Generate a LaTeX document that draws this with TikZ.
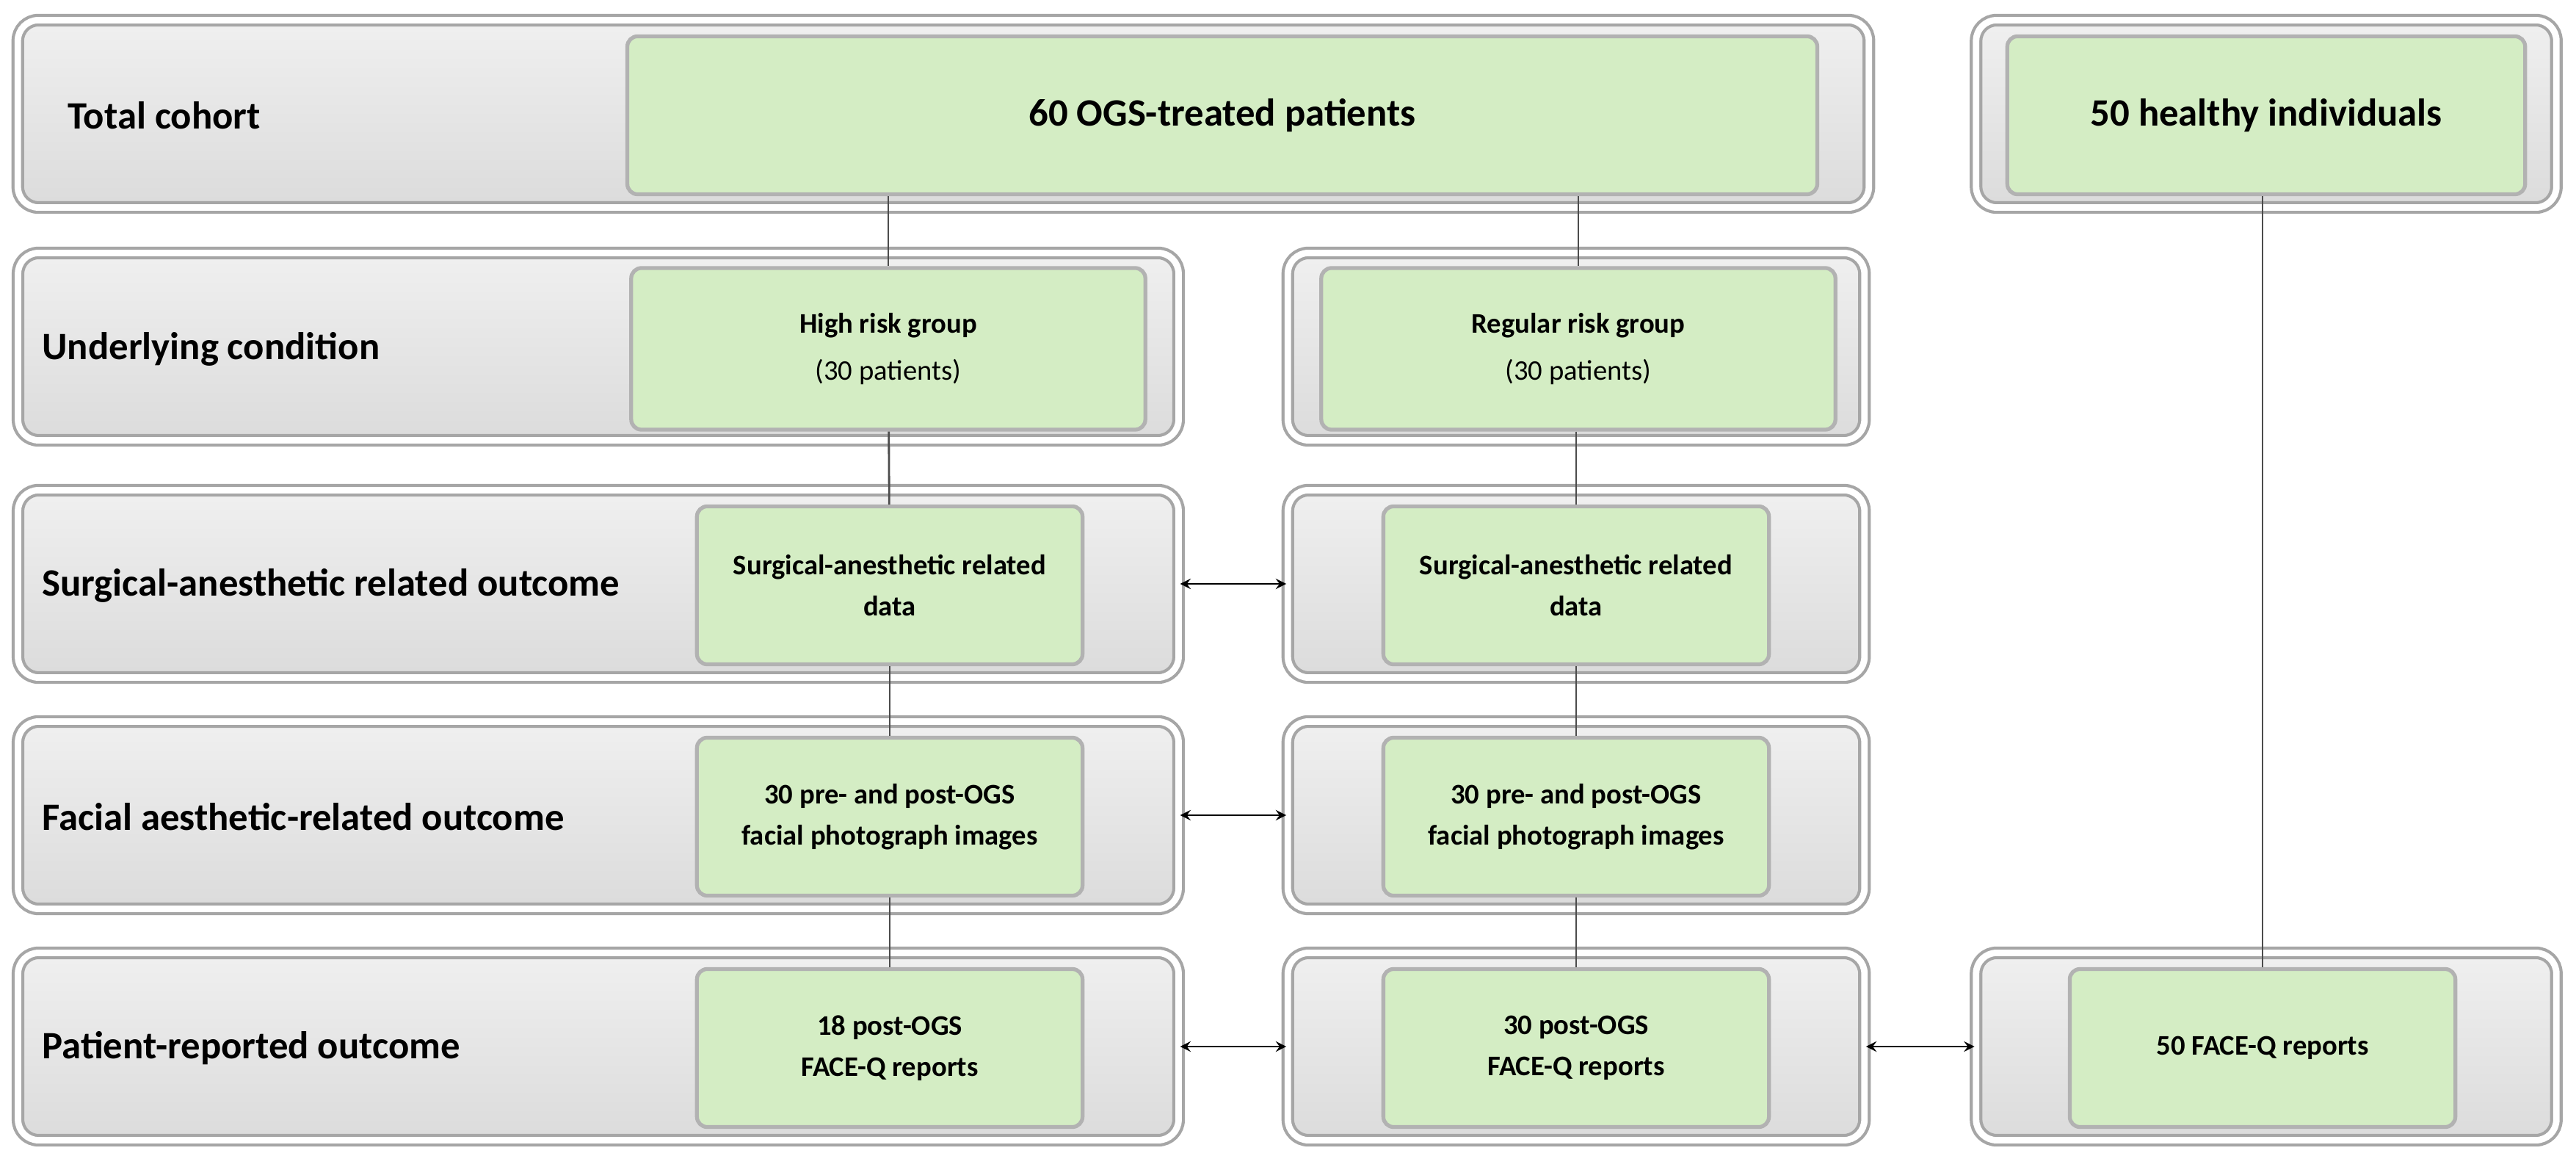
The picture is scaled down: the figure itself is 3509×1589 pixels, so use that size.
\documentclass[tikz,border=0pt]{standalone}
\usepackage{fontspec}
\setmainfont{Carlito}
\definecolor{gfill}{HTML}{D4EDC4}
\begin{document}
\begin{tikzpicture}[x=0.01cm,y=-0.01cm,
 grey/.style={draw=gray!70,double=white,double distance=2.5pt,line width=1.2pt,rounded corners=8pt,top color=gray!12,bottom color=gray!28},
 green/.style={draw=gray!60,line width=1.5pt,fill=gfill,rounded corners=4pt,font=\bfseries\fontsize{11}{16}\selectfont,align=center},
 lab/.style={anchor=west,font=\bfseries\fontsize{15}{18}\selectfont},
 link/.style={draw=black!70,line width=0.8pt},
 dbl/.style={draw=black,line width=0.8pt,<->,>=stealth}]
\useasboundingbox (0,0) rectangle (3509,1589);
% grey panels
\node[grey,minimum width=25.2cm,minimum height=2.55cm] (g1) at (1285,155) {};
\node[grey,minimum width=7.9cm,minimum height=2.55cm] (g1r) at (3087,155) {};
\foreach \y/\n in {472/2,795/3,1110/4,1425/5}{
 \node[grey,minimum width=15.8cm,minimum height=2.55cm] (gl\n) at (815,\y) {};
 \node[grey,minimum width=7.85cm,minimum height=2.55cm] (gm\n) at (2147,\y) {};
}
\node[grey,minimum width=7.9cm,minimum height=2.55cm] (g5r) at (3087,1425) {};
% labels
\node[lab] (l1) at (80,157) {Total cohort};
\node[lab] (l2) at (45,475) {Underlying condition};
\node[lab] (l3) at (45,797) {Surgical-anesthetic related outcome};
\node[lab] (l4) at (45,1112) {Facial aesthetic-related outcome};
\node[lab] (l5) at (45,1427) {Patient-reported outcome};
% green
\node[green,minimum width=16.2cm,minimum height=2.15cm,font=\bfseries\fontsize{15}{18}\selectfont] (t) at (1665,157) {60 OGS-treated patients};
\node[green,minimum width=7.05cm,minimum height=2.15cm,font=\bfseries\fontsize{15}{18}\selectfont] (h) at (3087,157) {50 healthy individuals};
\node[green,minimum width=7cm,minimum height=2.2cm] (a2) at (1210,475) {High risk group\\[2pt]{\mdseries (30 patients)}};
\node[green,minimum width=7cm,minimum height=2.2cm] (b2) at (2150,475) {Regular risk group\\[2pt]{\mdseries (30 patients)}};
\node[green,minimum width=5.25cm,minimum height=2.15cm] (a3) at (1212,797) {Surgical-anesthetic related\\data};
\node[green,minimum width=5.25cm,minimum height=2.15cm] (b3) at (2147,797) {Surgical-anesthetic related\\data};
\node[green,minimum width=5.25cm,minimum height=2.15cm] (a4) at (1212,1112) {30 pre- and post-OGS\\facial photograph images};
\node[green,minimum width=5.25cm,minimum height=2.15cm] (b4) at (2147,1112) {30 pre- and post-OGS\\facial photograph images};
\node[green,minimum width=5.25cm,minimum height=2.15cm] (a5) at (1212,1427) {18 post-OGS\\FACE-Q reports};
\node[green,minimum width=5.25cm,minimum height=2.15cm] (b5) at (2147,1427) {30 post-OGS\\FACE-Q reports};
\node[green,minimum width=5.25cm,minimum height=2.15cm] (c5) at (3082,1427) {50 FACE-Q reports};
% links
\draw[link] (t.south -| a2.north) -- (a2.north);
\draw[link] (t.south -| b2.north) -- (b2.north);
\draw[link] (a2) -- (a3); \draw[link] (a3) -- (a4); \draw[link] (a4) -- (a5);
\draw[link] (b2.south -| b3.north) -- (b3.north); \draw[link] (b3) -- (b4); \draw[link] (b4) -- (b5);
\draw[link] (h.south -| c5.north) -- (c5.north);
\draw[dbl] (gl3.east) -- (gm3.west);
\draw[dbl] (gl4.east) -- (gm4.west);
\draw[dbl] (gl5.east) -- (gm5.west);
\draw[dbl] (gm5.east) -- (g5r.west);
\end{tikzpicture}
\end{document}
